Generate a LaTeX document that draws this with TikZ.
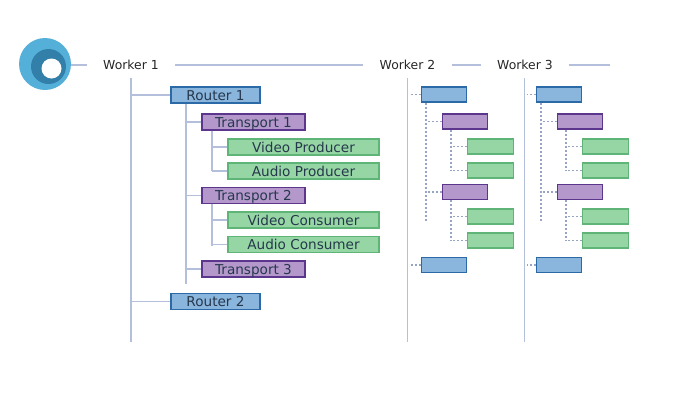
\documentclass[tikz,border=0pt]{standalone}
\usepackage{fontspec}
\setmainfont{DejaVu Sans}
\usepackage{xcolor}
\definecolor{rfill}{HTML}{8AB5DD}
\definecolor{rdraw}{HTML}{2B6AA6}
\definecolor{tfill}{HTML}{B498CC}
\definecolor{tdraw}{HTML}{5C358C}
\definecolor{pfill}{HTML}{96D6A4}
\definecolor{pdraw}{HTML}{5FB577}
\definecolor{wline}{HTML}{B3BFDB}
\definecolor{dline}{HTML}{97A4C4}
\definecolor{boxtxt}{HTML}{26384C}
\definecolor{logoout}{HTML}{55B0D9}
\definecolor{logomid}{HTML}{327FA9}
\begin{document}
\begin{tikzpicture}[x=1pt,y=-1pt,
 w/.style={font=\fontsize{12.4}{14}\selectfont,text=black!85,inner sep=0pt,minimum width=88.5pt,minimum height=12pt},
 b/.style={line width=1.1pt,inner sep=0pt,minimum height=16pt,text=boxtxt,font=\fontsize{13.6}{15}\selectfont,text height=11pt,text depth=1pt},
 r/.style={b,draw=rdraw,fill=rfill,minimum width=89pt},
 t/.style={b,draw=tdraw,fill=tfill,minimum width=103pt},
 p/.style={b,draw=pdraw,fill=pfill,minimum width=151pt},
 rs/.style={b,draw=rdraw,fill=rfill,minimum width=45.5pt,minimum height=15pt},
 ts/.style={b,draw=tdraw,fill=tfill,minimum width=45.5pt,minimum height=15pt},
 ps/.style={b,draw=pdraw,fill=pfill,minimum width=45.5pt,minimum height=15pt},
 l/.style={draw=wline,line width=1.2pt},
 d/.style={draw=dline,line width=1.2pt,dash pattern=on 2pt off 2pt}]
 \useasboundingbox (0,0) rectangle (675,402);
 % logo
 \node[circle,fill=logoout,minimum size=52pt,inner sep=0pt] (logo) at (45,64) {};
 \node[circle,fill=logomid,minimum size=35pt,inner sep=0pt] (logoc) at (48.5,66.5) {};
 \node[circle,fill=white,minimum size=20pt,inner sep=0pt] (logoin) at (51.5,68.5) {};
 % worker titles
 \node[w] (w1) at (131,65) {Worker 1};
 \node[w] (w2) at (407.5,65) {Worker 2};
 \node[w] (w3) at (525,65) {Worker 3};
 \coordinate (w3end) at (610,65);
 \draw[l] (w1.west -| logo.east) -- (w1.west);
 \draw[l] (w1.east) -- (w2.west);
 \draw[l] (w2.east) -- (w3.west);
 \draw[l] (w3.east) -- (w3end);
 % worker 1
 \node[r] (r1) at (215.5,95) {Router 1};
 \node[t] (t1) at (253.5,122) {Transport 1};
 \node[p] (vp) at (303.5,147) {Video Producer};
 \node[p] (ap) at (303.5,171) {Audio Producer};
 \node[t] (t2) at (253.5,195.5) {Transport 2};
 \node[p] (vc) at (303.5,220) {Video Consumer};
 \node[p] (ac) at (303.5,244.5) {Audio Consumer};
 \node[t] (t3) at (253.5,269) {Transport 3};
 \node[r] (r2) at (215.5,301.5) {Router 2};
 \coordinate (a1) at (131,78); \coordinate (z1) at (131,342);
 \coordinate (zr1) at (186,284);
 \coordinate (zt1) at (212,171); \coordinate (zt2) at (212,246);
 \draw[l] (a1)--(z1);
 \draw[l] (r1.west) -- (r1.west -| a1);
 \draw[l] (r2.west) -- (r2.west -| a1);
 \draw[l] (zr1 |- r1.south) -- (zr1);
 \foreach \n in {t1,t2,t3} \draw[l] (\n.west) -- (\n.west -| zr1);
 \draw[l] (zt1 |- t1.south) -- (zt1);
 \draw[l] (zt2 |- t2.south) -- (zt2);
 \foreach \n in {vp,ap} \draw[l] (\n.west) -- (\n.west -| zt1);
 \foreach \n in {vc,ac} \draw[l] (\n.west) -- (\n.west -| zt2);
 % worker 2 and 3, no labels
 \foreach \i/\x/\v in {2/0/407.5,3/115/409.5} {
  \begin{scope}[xshift=\x pt]
   \node[rs] (r1\i) at (444,94.5) {};
   \node[ts] (t1\i) at (465,121.5) {};
   \node[ps] (a1\i) at (490.5,146.5) {};
   \node[ps] (b1\i) at (490.5,170.5) {};
   \node[ts] (t2\i) at (465,192) {};
   \node[ps] (a2\i) at (490.5,216.5) {};
   \node[ps] (b2\i) at (490.5,240.5) {};
   \node[rs] (r2\i) at (444,265) {};
   \coordinate (top\i) at (\v,78); \coordinate (bot\i) at (\v,342);
   \coordinate (br\i) at (\v+2,95);
   \coordinate (zr\i) at (426,222);
   \coordinate (zu\i) at (451,171); \coordinate (zv\i) at (451,241);
   \draw[l] (top\i)--(bot\i);
   \draw[d] (r1\i.west) -- (r1\i.west -| br\i);
   \draw[d] (r2\i.west) -- (r2\i.west -| br\i);
   \draw[d] (zr\i |- r1\i.south) -- (zr\i);
   \draw[d] (t1\i.west) -- (t1\i.west -| zr\i);
   \draw[d] (t2\i.west) -- (t2\i.west -| zr\i);
   \draw[d] (zu\i |- t1\i.south) -- (zu\i);
   \draw[d] (zv\i |- t2\i.south) -- (zv\i);
   \draw[d] (a1\i.west) -- (a1\i.west -| zu\i);
   \draw[d] (b1\i.west) -- (b1\i.west -| zu\i);
   \draw[d] (a2\i.west) -- (a2\i.west -| zv\i);
   \draw[d] (b2\i.west) -- (b2\i.west -| zv\i);
  \end{scope}
 }
\end{tikzpicture}
\end{document}
